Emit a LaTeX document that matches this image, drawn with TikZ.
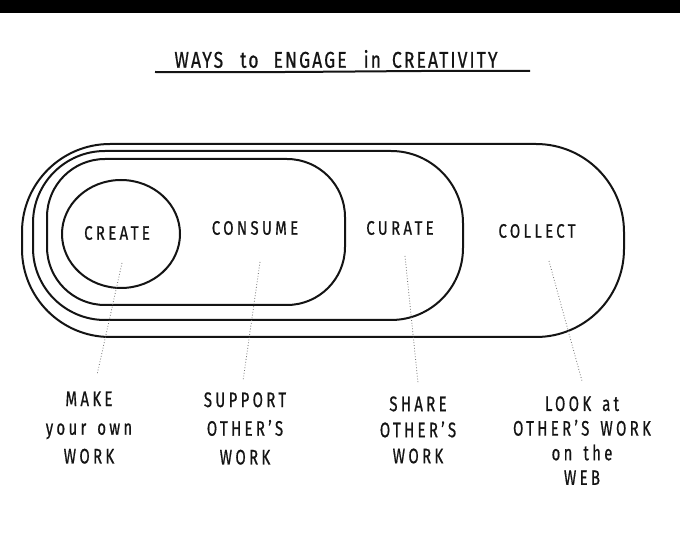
\documentclass[tikz,border=0pt]{standalone}
\usepackage{fontspec}
\setmainfont{Fira Sans}[LetterSpace=22, FakeBold=0.8]
\usepackage{graphicx}
\newcommand\hwtext[1]{\scalebox{1}[1.4]{\begin{tabular}{@{}c@{}}#1\end{tabular}}}
\newcommand\wsp{\kern 11pt}
\tikzset{
  ink/.style={draw=black!92, line width=2pt, line join=round},
  dotline/.style={draw=black!55, line width=0.8pt, dotted},
  word/.style={inner sep=0pt, text=black!92, font=\fontsize{15}{15}\selectfont},
  answer/.style={inner sep=0pt, text=black!92, font=\fontsize{15}{20.5}\selectfont},
}
\begin{document}
\begin{tikzpicture}[x=1pt,y=-1pt]
\useasboundingbox (0,0) rectangle (680,534);
\fill[white] (0,0) rectangle (680,534);
\fill[black] (0,0) rectangle (680,13);

% title
\node[inner sep=0pt, text=black!92, font=\fontsize{17.5}{18}\selectfont\addfontfeatures{LetterSpace=12}] (title) at (336,59)
  {\scalebox{1}[1.3]{WAYS\kern 17pt to\kern 15pt ENGAGE\kern 17pt in\kern 11pt CREATIVITY}};
\coordinate (ulA) at (155,72);
\coordinate (ulB) at (530,71);
\draw[ink] (ulA) .. controls (300,73) and (420,70) .. (ulB);

% nested shapes
\draw[ink, rounded corners=88pt] (22,144) rectangle (624,337);
\draw[ink, rounded corners=72pt] (33,151) rectangle (463,320);
\draw[ink, rounded corners=58pt] (47,159) rectangle (345,305);
\draw[ink] (121,234) ellipse [x radius=59, y radius=54];

% area labels
\node[word] (create) at (117,233) {\scalebox{1}[1.3]{CREATE}};
\node[word] (consume) at (255,228) {\scalebox{1}[1.3]{CONSUME}};
\node[word] (curate) at (400,228) {\scalebox{1}[1.3]{CURATE}};
\node[word] (collect) at (537,231) {\scalebox{1}[1.3]{COLLECT}};

% answers
\node[answer] (make) at (89,429) {\hwtext{MAKE\\your\wsp own\\WORK}};
\node[answer] (support) at (245,430) {\hwtext{SUPPORT\\OTHER'S\\WORK}};
\node[answer, font=\fontsize{15}{18.6}\selectfont] (share) at (418,432) {\hwtext{SHARE\\OTHER'S\\WORK}};
\node[answer, font=\fontsize{15}{17.6}\selectfont] (look) at (582,443) {\hwtext{LOOK\wsp at\\OTHER'S\wsp WORK\\on\wsp the\\WEB}};

% dotted connectors
\coordinate (s1) at (122,263); \coordinate (e1) at (97,375);
\coordinate (s2) at (260,262); \coordinate (e2) at (243,381);
\coordinate (s3) at (405,256); \coordinate (e3) at (418,383);
\coordinate (s4) at (549,261); \coordinate (e4) at (582,381);
\draw[dotline] (s1) -- (e1);
\draw[dotline] (s2) -- (e2);
\draw[dotline] (s3) -- (e3);
\draw[dotline] (s4) -- (e4);
\end{tikzpicture}
\end{document}
